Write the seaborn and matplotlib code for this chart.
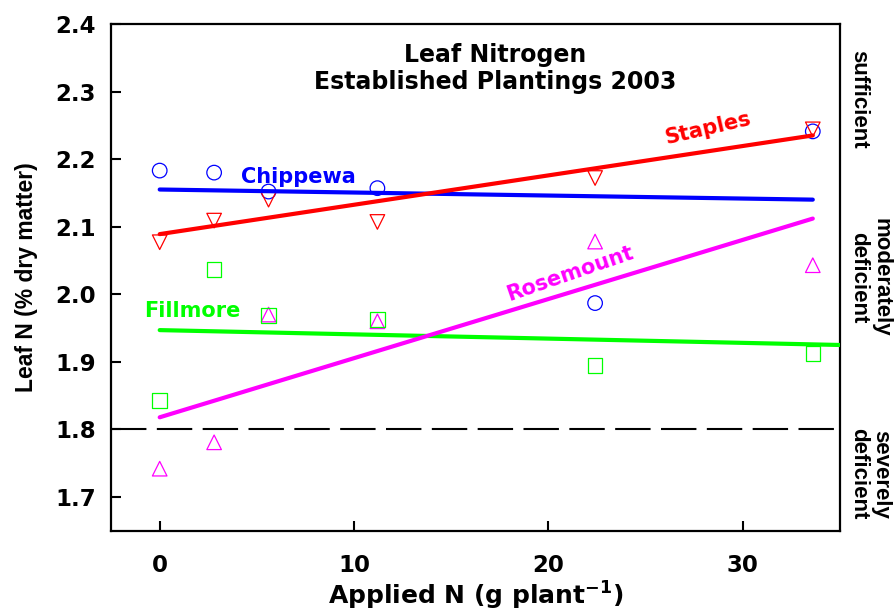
import numpy as np
import pandas as pd
import matplotlib
matplotlib.use("Agg")
import matplotlib.pyplot as plt
import matplotlib.transforms as mtransforms
import seaborn as sns

# ---- data ----
applied_n = [0, 2.8, 5.6, 11.2, 22.4, 33.6]
chippewa = [2.183, 2.180, 2.152, 2.157, 1.987, 2.241]
staples = [2.077, 2.109, 2.140, 2.107, 2.172, 2.244]
fillmore = [1.843, 2.037, 1.969, 1.963, 1.895, 1.912]
rosemount = [1.742, 1.781, 1.970, 1.960, 2.078, 2.043]

cultivars = ["Rosemount", "Fillmore", "Chippewa", "Staples"]
colors = {"Chippewa": "#0000ff", "Staples": "#ff0000",
          "Fillmore": "#00ff00", "Rosemount": "#ff00ff"}
markers = {"Chippewa": "o", "Staples": "v", "Fillmore": "s", "Rosemount": "^"}

# fitted regression lines (intercept, slope) and x-extent
fit_intercept = {"Chippewa": 2.155, "Staples": 2.089, "Fillmore": 1.947, "Rosemount": 1.818}
fit_slope = {"Chippewa": -0.000446, "Staples": 0.004345, "Fillmore": -0.000629, "Rosemount": 0.00875}
fit_xmax = {"Chippewa": 33.6, "Staples": 33.6, "Fillmore": 35.0, "Rosemount": 33.6}

threshold = 1.8
zones = ["sufficient", "moderately\ndeficient", "severely\ndeficient"]
zone_y = [2.288, 2.025, 1.734]

series = {"Chippewa": chippewa, "Staples": staples, "Fillmore": fillmore, "Rosemount": rosemount}
df = pd.DataFrame([(c, x, y) for c in cultivars for x, y in zip(applied_n, series[c])],
                  columns=["cultivar", "applied", "leafN"])

sns.set_theme(style="white")
plt.rcParams["font.family"] = ["DejaVu Sans"]
plt.rcParams["font.weight"] = "bold"
for k in ["text.color", "axes.labelcolor", "xtick.color", "ytick.color"]:
    plt.rcParams[k] = "black"

WIDE = ["DejaVu Sans"]
NARROW = ["Liberation Sans", "DejaVu Sans"]

fig, ax = plt.subplots(figsize=(8.96, 6.13), dpi=100)
fig.subplots_adjust(left=0.124, right=0.9375, bottom=0.134, top=0.961)

for c in cultivars:
    sub = df[df.cultivar == c]
    sns.scatterplot(data=sub, x="applied", y="leafN", ax=ax, marker=markers[c],
                    s=110, facecolor="none", edgecolor=colors[c], linewidth=0.9,
                    legend=False, zorder=3)

for c in ["Fillmore", "Chippewa", "Staples", "Rosemount"]:
    xs = np.array([0.0, fit_xmax[c]])
    ys = fit_intercept[c] + fit_slope[c] * xs
    sns.lineplot(x=xs, y=ys, ax=ax, color=colors[c], linewidth=3.0, zorder=4,
                 solid_capstyle="round")

ax.axhline(threshold, color="black", linewidth=1.5, dashes=(17, 5), zorder=2)

# cultivar labels
lab_kw = dict(fontsize=15, fontweight="bold", ha="center", va="center", family=WIDE)
ax.text(7.11, 2.174, "Chippewa", color=colors["Chippewa"], **lab_kw)
ax.text(28.2, 2.246, "Staples", color=colors["Staples"], rotation=13, **lab_kw)
ax.text(21.1, 2.031, "Rosemount", color=colors["Rosemount"], rotation=19, **lab_kw)
ax.text(1.66, 1.975, "Fillmore", color=colors["Fillmore"], **lab_kw)

ax.text(17.24, 2.334, "Leaf Nitrogen\nEstablished Plantings 2003", fontsize=17,
        fontweight="bold", ha="center", va="center", linespacing=1.2, family=WIDE)

trans = mtransforms.blended_transform_factory(ax.transAxes, ax.transData)
for label, yv in zip(zones, zone_y):
    ax.text(1.011, yv, label, transform=trans, rotation=270, fontsize=16,
            fontweight="bold", ha="left", va="center", multialignment="center",
            linespacing=1.1, family=NARROW)

ax.set_xlim(-2.5, 35)
ax.set_ylim(1.65, 2.4)
ax.set_xticks([0, 10, 20, 30])
yt = [1.7, 1.8, 1.9, 2.0, 2.1, 2.2, 2.3, 2.4]
ax.set_yticks(yt)
ax.set_yticklabels([f"{v:.1f}" for v in yt])
ax.tick_params(axis="both", direction="in", length=7, width=1.5, labelsize=16.5,
               left=True, bottom=True, right=False, top=False)
ax.tick_params(axis="y", pad=11)
ax.tick_params(axis="x", pad=17)
for lab in ax.get_xticklabels() + ax.get_yticklabels():
    lab.set_fontweight("bold")
    lab.set_family(WIDE)

for s in ax.spines.values():
    s.set_color("black")
    s.set_linewidth(1.6)

ax.set_xlabel("Applied N (g plant$^{\\mathbf{-1}}$)", fontsize=18, fontweight="bold",
              labelpad=2, family=WIDE)
ax.set_ylabel("Leaf N (% dry matter)", fontsize=16.5, fontweight="bold", labelpad=12,
              family=NARROW)

fig.savefig("out.png", dpi=100)
